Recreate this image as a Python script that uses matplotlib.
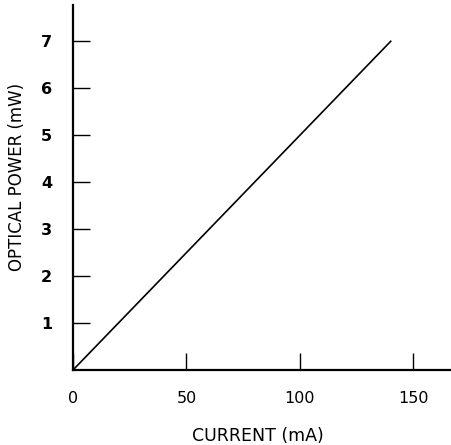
import matplotlib
matplotlib.use("Agg")
import matplotlib.pyplot as plt

# Laser diode L-I curve
current_mA = [0, 140]
power_mW = [0, 7]

x_ticks = [0, 50, 100, 150]
y_ticks = [1, 2, 3, 4, 5, 6, 7]

plt.rcParams['font.family'] = ['DejaVu Sans']

fig = plt.figure(figsize=(4.52, 4.45), dpi=100)
ax = fig.add_axes([0.1615, 0.1685, 0.8385, 0.820])

ax.plot(current_mA, power_mW, color='black', lw=1.2)

ax.set_xlim(0, 167)
ax.set_ylim(0, 7.77)
ax.set_xticks(x_ticks)
ax.set_yticks(y_ticks)
ax.set_xticklabels([str(v) for v in x_ticks], fontsize=11.5)
ax.set_yticklabels([str(v) for v in y_ticks], fontsize=11.5, fontweight='bold')

ax.tick_params(axis='x', direction='in', length=12, width=1.0, pad=15)
ax.tick_params(axis='y', direction='in', length=12, width=1.0, pad=15)

for s in ('top', 'right'):
    ax.spines[s].set_visible(False)
for s in ('left', 'bottom'):
    ax.spines[s].set_linewidth(1.6)

ax.set_xlabel('CURRENT (mA)', fontsize=12.5)
ax.set_ylabel('OPTICAL POWER (mW)', fontsize=12)
ax.xaxis.set_label_coords(0.488, -0.155)
ax.yaxis.set_label_coords(-0.125, 0.53)

fig.savefig('out.png', dpi=100)
plt.close(fig)
